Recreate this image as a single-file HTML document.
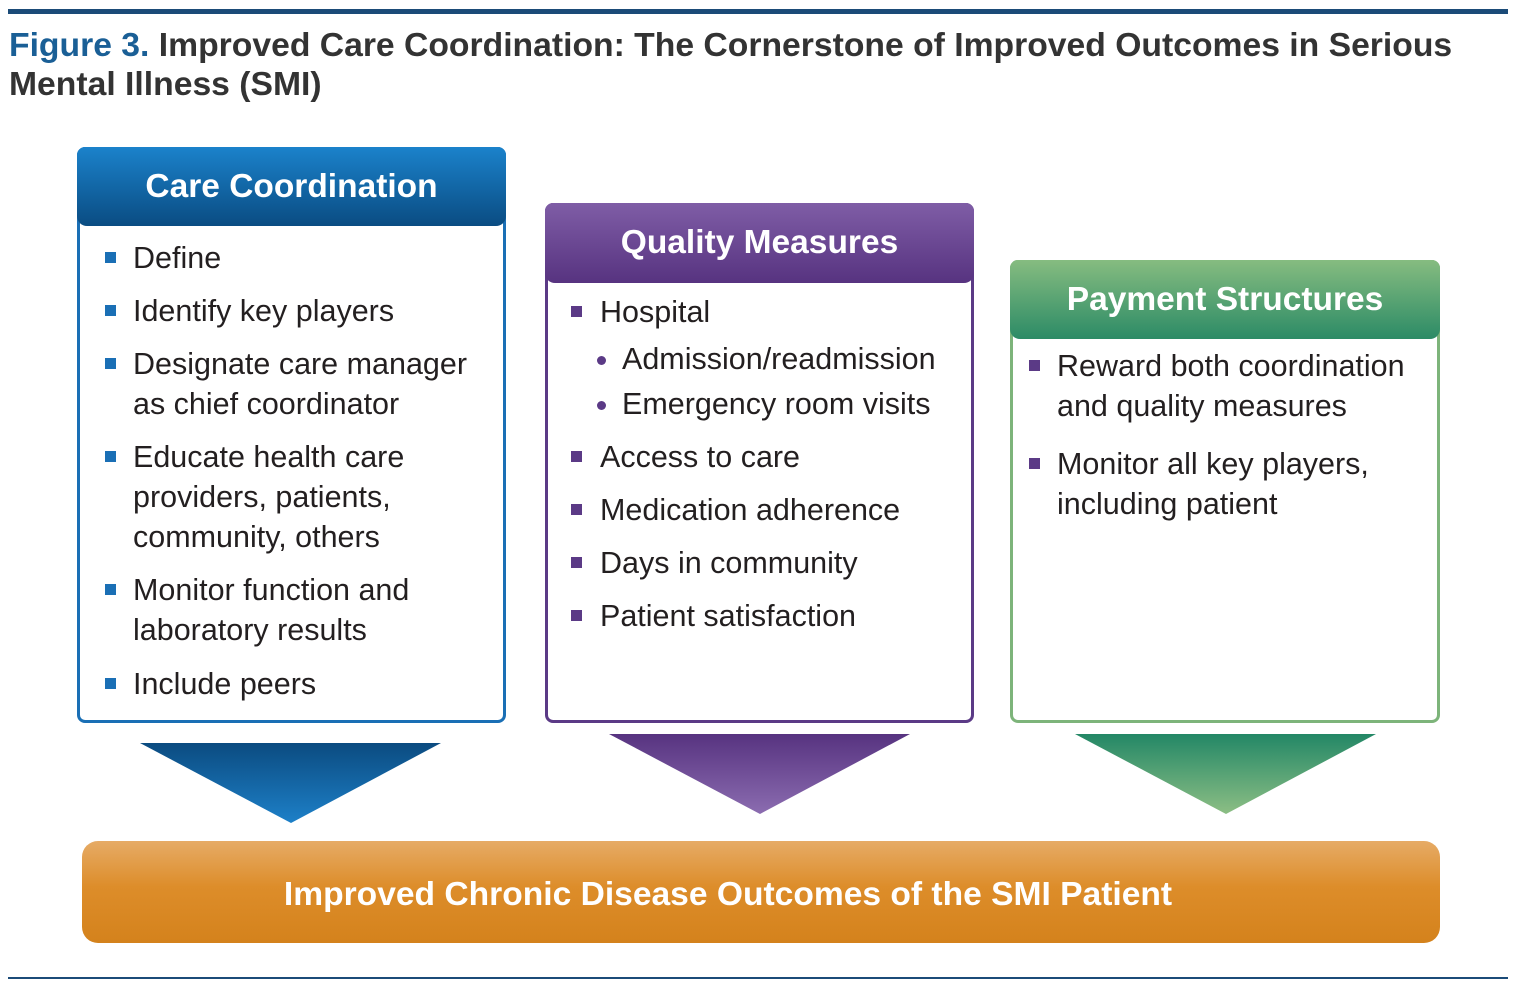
<!DOCTYPE html>
<html><head><meta charset="utf-8"><style>
body{margin:0;width:1519px;height:990px;background:#fff;position:relative;overflow:hidden;font-family:"Liberation Sans",sans-serif;}
.abs{position:absolute;}
.box{position:absolute;background:#fff;border:3px solid;border-radius:8px;box-sizing:border-box;}
.hdr{position:absolute;left:-3px;right:-3px;top:-3px;border-radius:8px 8px 10px 10px;color:#fff;font-weight:bold;font-size:33.5px;text-align:center;box-sizing:border-box;}
.t{position:absolute;font-size:30.5px;color:#231f20;line-height:40px;white-space:nowrap;}
.sq{position:absolute;width:11px;height:11px;}
.dot{position:absolute;width:9px;height:9px;border-radius:50%;background:#5b3a86;}
</style></head><body>
<div class="abs" style="left:8px;top:9px;width:1500px;height:5px;background:#1b4b78"></div>
<div class="abs" style="left:9px;top:26px;font-size:33.7px;line-height:39px;color:#333;font-weight:bold;width:1510px;white-space:nowrap"><span style="color:#1a5f96">Figure 3.</span> Improved Care Coordination: The Cornerstone of Improved Outcomes in Serious<br>Mental Illness (SMI)</div>

<div class="box" style="left:77px;top:147px;width:429px;height:576px;border-color:#1a6fb5">
 <div class="hdr" style="height:79px;line-height:79px;background:linear-gradient(#1b82cb,#0a4c82)">Care Coordination</div>
</div>
<div class="box" style="left:545px;top:203px;width:429px;height:520px;border-color:#5b3a86">
 <div class="hdr" style="height:80px;line-height:80px;background:linear-gradient(#7f5da6,#573380)">Quality Measures</div>
</div>
<div class="box" style="left:1010px;top:260px;width:430px;height:463px;border-color:#7db47a">
 <div class="hdr" style="height:79px;line-height:79px;background:linear-gradient(#86bc80,#2c8b66)">Payment Structures</div>
</div>

<div class="sq" style="left:105px;top:252px;background:#1a6fb5"></div>
<div class="t" style="left:133px;top:238px">Define</div>
<div class="sq" style="left:105px;top:305px;background:#1a6fb5"></div>
<div class="t" style="left:133px;top:291px">Identify key players</div>
<div class="sq" style="left:105px;top:358px;background:#1a6fb5"></div>
<div class="t" style="left:133px;top:344px">Designate care manager<br>as chief coordinator</div>
<div class="sq" style="left:105px;top:451px;background:#1a6fb5"></div>
<div class="t" style="left:133px;top:437px">Educate health care<br>providers, patients,<br>community, others</div>
<div class="sq" style="left:105px;top:584px;background:#1a6fb5"></div>
<div class="t" style="left:133px;top:570px">Monitor function and<br>laboratory results</div>
<div class="sq" style="left:105px;top:678px;background:#1a6fb5"></div>
<div class="t" style="left:133px;top:664px">Include peers</div>

<div class="sq" style="left:571px;top:306px;background:#5b3a86"></div>
<div class="t" style="left:600px;top:292px">Hospital</div>
<div class="dot" style="left:597px;top:356px"></div>
<div class="t" style="left:622px;top:339px">Admission/readmission</div>
<div class="dot" style="left:597px;top:401px"></div>
<div class="t" style="left:622px;top:384px">Emergency room visits</div>
<div class="sq" style="left:571px;top:451px;background:#5b3a86"></div>
<div class="t" style="left:600px;top:437px">Access to care</div>
<div class="sq" style="left:571px;top:504px;background:#5b3a86"></div>
<div class="t" style="left:600px;top:490px">Medication adherence</div>
<div class="sq" style="left:571px;top:557px;background:#5b3a86"></div>
<div class="t" style="left:600px;top:543px">Days in community</div>
<div class="sq" style="left:571px;top:610px;background:#5b3a86"></div>
<div class="t" style="left:600px;top:596px">Patient satisfaction</div>

<div class="sq" style="left:1029px;top:360px;background:#5b3a86"></div>
<div class="t" style="left:1057px;top:346px">Reward both coordination<br>and quality measures</div>
<div class="sq" style="left:1029px;top:458px;background:#5b3a86"></div>
<div class="t" style="left:1057px;top:444px">Monitor all key players,<br>including patient</div>

<svg class="abs" style="left:0;top:0" width="1519" height="990">
<defs>
<linearGradient id="gb" x1="0" y1="0" x2="0" y2="1"><stop offset="0" stop-color="#0b4b80"/><stop offset="1" stop-color="#1d80c8"/></linearGradient>
<linearGradient id="gp" x1="0" y1="0" x2="0" y2="1"><stop offset="0" stop-color="#573380"/><stop offset="1" stop-color="#8b6cb0"/></linearGradient>
<linearGradient id="gg" x1="0" y1="0" x2="0" y2="1"><stop offset="0" stop-color="#238766"/><stop offset="1" stop-color="#8cbe84"/></linearGradient>
<linearGradient id="go" x1="0" y1="0" x2="0" y2="1"><stop offset="0" stop-color="#e6ab66"/><stop offset="0.45" stop-color="#dd8d2a"/><stop offset="1" stop-color="#d4821c"/></linearGradient>
</defs>
<polygon points="140,743 441,743 291,823" fill="url(#gb)"/>
<polygon points="609,734 910,734 760,814" fill="url(#gp)"/>
<polygon points="1075,734 1376,734 1226,814" fill="url(#gg)"/>
<rect x="82" y="841" width="1358" height="102" rx="16" fill="url(#go)"/>
<text x="728" y="905" text-anchor="middle" font-family="Liberation Sans, sans-serif" font-weight="bold" font-size="33.6" fill="#fff">Improved Chronic Disease Outcomes of the SMI Patient</text>
</svg>
<div class="abs" style="left:8px;top:977px;width:1500px;height:2px;background:#1b4b78"></div>
</body></html>
